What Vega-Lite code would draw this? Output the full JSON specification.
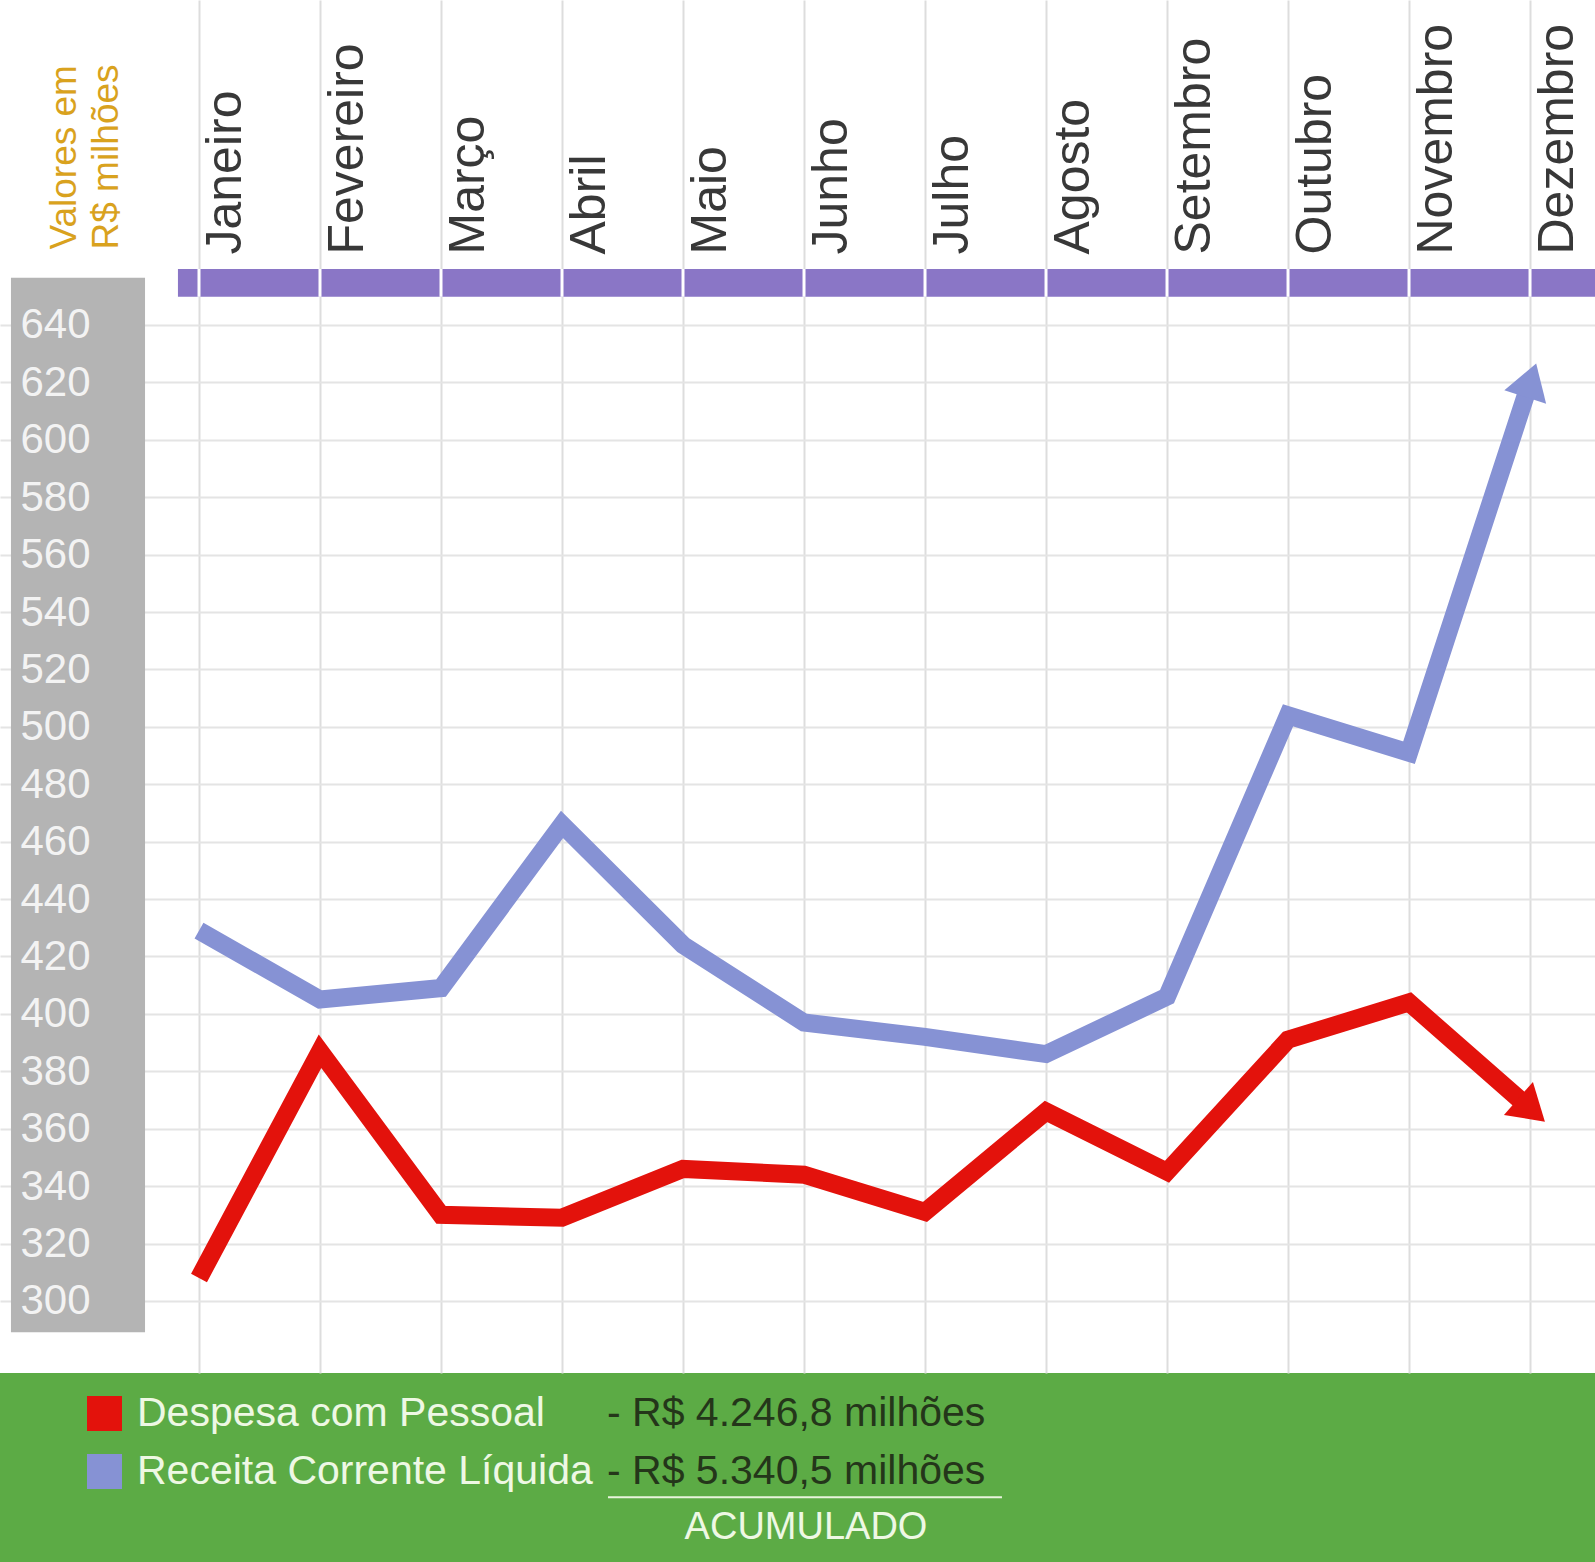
{
  "$schema": "https://vega.github.io/schema/vega-lite/v6.json",
  "description": "Despesa com Pessoal x Receita Corrente Liquida, por mes (R$ milhoes)",
  "width": 1595,
  "height": 1373,
  "autosize": {"type": "none"},
  "padding": {"left": 0, "top": 0, "right": 0, "bottom": 189},
  "background": "#5cab45",
  "config": {
    "font": "Liberation Sans",
    "view": {"fill": "#ffffff", "stroke": null}
  },
  "data": {
    "values": [
      {"mes": 1, "serie": "Despesa com Pessoal", "valor": 308, "total": "- R$ 4.246,8 milhões"},
      {"mes": 2, "serie": "Despesa com Pessoal", "valor": 387, "total": "- R$ 4.246,8 milhões"},
      {"mes": 3, "serie": "Despesa com Pessoal", "valor": 330, "total": "- R$ 4.246,8 milhões"},
      {"mes": 4, "serie": "Despesa com Pessoal", "valor": 329, "total": "- R$ 4.246,8 milhões"},
      {"mes": 5, "serie": "Despesa com Pessoal", "valor": 346, "total": "- R$ 4.246,8 milhões"},
      {"mes": 6, "serie": "Despesa com Pessoal", "valor": 344, "total": "- R$ 4.246,8 milhões"},
      {"mes": 7, "serie": "Despesa com Pessoal", "valor": 331, "total": "- R$ 4.246,8 milhões"},
      {"mes": 8, "serie": "Despesa com Pessoal", "valor": 366, "total": "- R$ 4.246,8 milhões"},
      {"mes": 9, "serie": "Despesa com Pessoal", "valor": 345, "total": "- R$ 4.246,8 milhões"},
      {"mes": 10, "serie": "Despesa com Pessoal", "valor": 391, "total": "- R$ 4.246,8 milhões"},
      {"mes": 11, "serie": "Despesa com Pessoal", "valor": 404, "total": "- R$ 4.246,8 milhões"},
      {"mes": 12, "serie": "Despesa com Pessoal", "valor": 367, "total": "- R$ 4.246,8 milhões"},
      {"mes": 1, "serie": "Receita Corrente Líquida", "valor": 429, "total": "- R$ 5.340,5 milhões"},
      {"mes": 2, "serie": "Receita Corrente Líquida", "valor": 405, "total": "- R$ 5.340,5 milhões"},
      {"mes": 3, "serie": "Receita Corrente Líquida", "valor": 409, "total": "- R$ 5.340,5 milhões"},
      {"mes": 4, "serie": "Receita Corrente Líquida", "valor": 466, "total": "- R$ 5.340,5 milhões"},
      {"mes": 5, "serie": "Receita Corrente Líquida", "valor": 424, "total": "- R$ 5.340,5 milhões"},
      {"mes": 6, "serie": "Receita Corrente Líquida", "valor": 397, "total": "- R$ 5.340,5 milhões"},
      {"mes": 7, "serie": "Receita Corrente Líquida", "valor": 392, "total": "- R$ 5.340,5 milhões"},
      {"mes": 8, "serie": "Receita Corrente Líquida", "valor": 386, "total": "- R$ 5.340,5 milhões"},
      {"mes": 9, "serie": "Receita Corrente Líquida", "valor": 406, "total": "- R$ 5.340,5 milhões"},
      {"mes": 10, "serie": "Receita Corrente Líquida", "valor": 504, "total": "- R$ 5.340,5 milhões"},
      {"mes": 11, "serie": "Receita Corrente Líquida", "valor": 491, "total": "- R$ 5.340,5 milhões"},
      {"mes": 12, "serie": "Receita Corrente Líquida", "valor": 620, "total": "- R$ 5.340,5 milhões"}
    ]
  },
  "resolve": {"axis": {"y": "independent"}},
  "layer": [
    {
      "data": {"values": [{}]},
      "mark": {"type": "rect", "color": "#b4b4b4"},
      "encoding": {
        "x": {"datum": -0.554, "type": "quantitative", "scale": {"domain": [-0.6446, 12.537], "nice": false, "zero": false}},
        "x2": {"datum": 0.554},
        "y": {
          "datum": 289.1,
          "type": "quantitative",
          "scale": {"domain": [274.9, 753.2], "nice": false, "zero": false},
          "axis": {
            "orient": "left",
            "zindex": 2,
            "values": [300, 320, 340, 360, 380, 400, 420, 440, 460, 480, 500, 520, 540, 560, 580, 600, 620, 640],
            "labelAlign": "left",
            "labelPadding": -20,
            "labelFontSize": 42,
            "labelColor": "#f3f3f3",
            "labelOverlap": false,
            "labelFlush": false,
            "labelBound": false,
            "ticks": false,
            "domain": false,
            "grid": false,
            "title": ["Valores em", "R$ milhões"],
            "titleAngle": 270,
            "titleX": 46,
            "titleY": 249,
            "titleAlign": "left",
            "titleBaseline": "top",
            "titleFontSize": 37,
            "titleFontWeight": "normal",
            "titleLineHeight": 42,
            "titleLimit": 400,
            "titleColor": "#d9a21e"
          }
        },
        "y2": {"datum": 656.4}
      }
    },
    {
      "data": {"values": [{}]},
      "mark": {"type": "rect", "color": "#8a76c6"},
      "encoding": {
        "x": {"datum": 0.826, "type": "quantitative", "scale": {"domain": [-0.6446, 12.537], "nice": false, "zero": false}},
        "x2": {"datum": 12.537},
        "y": {"datum": 649.8, "type": "quantitative", "scale": {"domain": [274.9, 753.2], "nice": false, "zero": false}, "axis": null},
        "y2": {"datum": 659.5}
      }
    },
    {
      "transform": [{"filter": "datum.serie == 'Despesa com Pessoal'"}],
      "mark": {"type": "rule", "color": "#ffffff", "strokeWidth": 3},
      "encoding": {
        "x": {"field": "mes", "type": "quantitative", "scale": {"domain": [-0.6446, 12.537], "nice": false, "zero": false}},
        "y": {"datum": 649.8, "type": "quantitative", "scale": {"domain": [274.9, 753.2], "nice": false, "zero": false}, "axis": null},
        "y2": {"datum": 659.5}
      }
    },
    {
      "mark": {"type": "line", "strokeWidth": 18, "strokeJoin": "miter", "strokeMiterLimit": 10, "strokeCap": "butt"},
      "encoding": {
        "x": {
          "field": "mes",
          "type": "quantitative",
          "scale": {"domain": [-0.6446, 12.537], "nice": false, "zero": false},
          "axis": {
            "orient": "top",
            "values": [1, 2, 3, 4, 5, 6, 7, 8, 9, 10, 11, 12],
            "labelExpr": "['Janeiro','Fevereiro','Março','Abril','Maio','Junho','Julho','Agosto','Setembro','Outubro','Novembro','Dezembro'][datum.value - 1]",
            "labelAngle": 270,
            "labelAlign": "left",
            "labelBaseline": "top",
            "labelPadding": -254,
            "labelOffset": 2,
            "labelFontSize": 50,
            "labelColor": "#383838",
            "labelLimit": 400,
            "labelOverlap": false,
            "labelFlush": false,
            "labelBound": false,
            "ticks": false,
            "domain": false,
            "grid": true,
            "gridColor": "#dddddd",
            "gridWidth": 2,
            "title": null
          }
        },
        "y": {
          "field": "valor",
          "type": "quantitative",
          "scale": {"domain": [274.9, 753.2], "nice": false, "zero": false},
          "axis": {
            "orient": "left",
            "zindex": 0,
            "values": [300, 320, 340, 360, 380, 400, 420, 440, 460, 480, 500, 520, 540, 560, 580, 600, 620, 640],
            "labels": false,
            "ticks": false,
            "domain": false,
            "grid": true,
            "gridColor": "#e4e4e4",
            "gridWidth": 2,
            "title": null
          }
        },
        "color": {
          "field": "serie",
          "type": "nominal",
          "scale": {"domain": ["Despesa com Pessoal", "Receita Corrente Líquida"], "range": ["#e3120c", "#8692d4"]},
          "legend": {
            "orient": "none",
            "legendX": 84,
            "legendY": 1393,
            "title": null,
            "padding": 0,
            "symbolType": "square",
            "symbolSize": 324,
            "symbolStrokeWidth": 17,
            "clipHeight": 41,
            "labelFontSize": 41,
            "labelColor": "#eef8e4",
            "labelOffset": 12,
            "labelLimit": 700,
            "rowPadding": 16
          }
        }
      }
    },
    {
      "transform": [{"filter": "datum.mes == 12 && datum.serie == 'Despesa com Pessoal'"}],
      "mark": {"type": "point", "filled": true, "opacity": 1, "angle": 131.2},
      "encoding": {
        "x": {"field": "mes", "type": "quantitative", "scale": {"domain": [-0.6446, 12.537], "nice": false, "zero": false}},
        "y": {"field": "valor", "type": "quantitative", "scale": {"domain": [274.9, 753.2], "nice": false, "zero": false}, "axis": null},
        "color": {"field": "serie", "type": "nominal", "legend": null},
        "size": {"value": 1936},
        "shape": {
          "field": "total",
          "type": "nominal",
          "scale": {"domain": ["- R$ 4.246,8 milhões", "- R$ 5.340,5 milhões"], "range": ["M0,-0.9L1,0.7L-1,0.7Z", "M0,-0.9L1,0.7L-1,0.7Z"]},
          "legend": {
            "orient": "none",
            "legendX": 626,
            "legendY": 1393,
            "title": "ACUMULADO",
            "titleOrient": "bottom",
            "titleAnchor": "middle",
            "titleFontSize": 38,
            "titleFontWeight": "normal",
            "titleColor": "#eef8e4",
            "titlePadding": 17,
            "titleLimit": 600,
            "padding": 0,
            "symbolSize": 4,
            "symbolOpacity": 0,
            "symbolStrokeWidth": 0,
            "clipHeight": 41,
            "labelOffset": -60,
            "labelFontSize": 41,
            "labelColor": "#24361a",
            "labelLimit": 700,
            "rowPadding": 16
          }
        }
      }
    },
    {
      "transform": [{"filter": "datum.mes == 12 && datum.serie == 'Receita Corrente Líquida'"}],
      "mark": {"type": "point", "filled": true, "opacity": 1, "angle": 18.1},
      "encoding": {
        "x": {"field": "mes", "type": "quantitative", "scale": {"domain": [-0.6446, 12.537], "nice": false, "zero": false}},
        "y": {"field": "valor", "type": "quantitative", "scale": {"domain": [274.9, 753.2], "nice": false, "zero": false}, "axis": null},
        "color": {"field": "serie", "type": "nominal", "legend": null},
        "size": {"value": 1936},
        "shape": {"field": "total", "type": "nominal"}
      }
    },
    {
      "data": {"values": [{}]},
      "mark": {"type": "rule", "color": "#e8f4dc", "strokeWidth": 2},
      "encoding": {
        "x": {"datum": 4.38, "type": "quantitative", "scale": {"domain": [-0.6446, 12.537], "nice": false, "zero": false}},
        "x2": {"datum": 7.636},
        "y": {"datum": 231.6, "type": "quantitative", "scale": {"domain": [274.9, 753.2], "nice": false, "zero": false}, "axis": null}
      }
    }
  ]
}
